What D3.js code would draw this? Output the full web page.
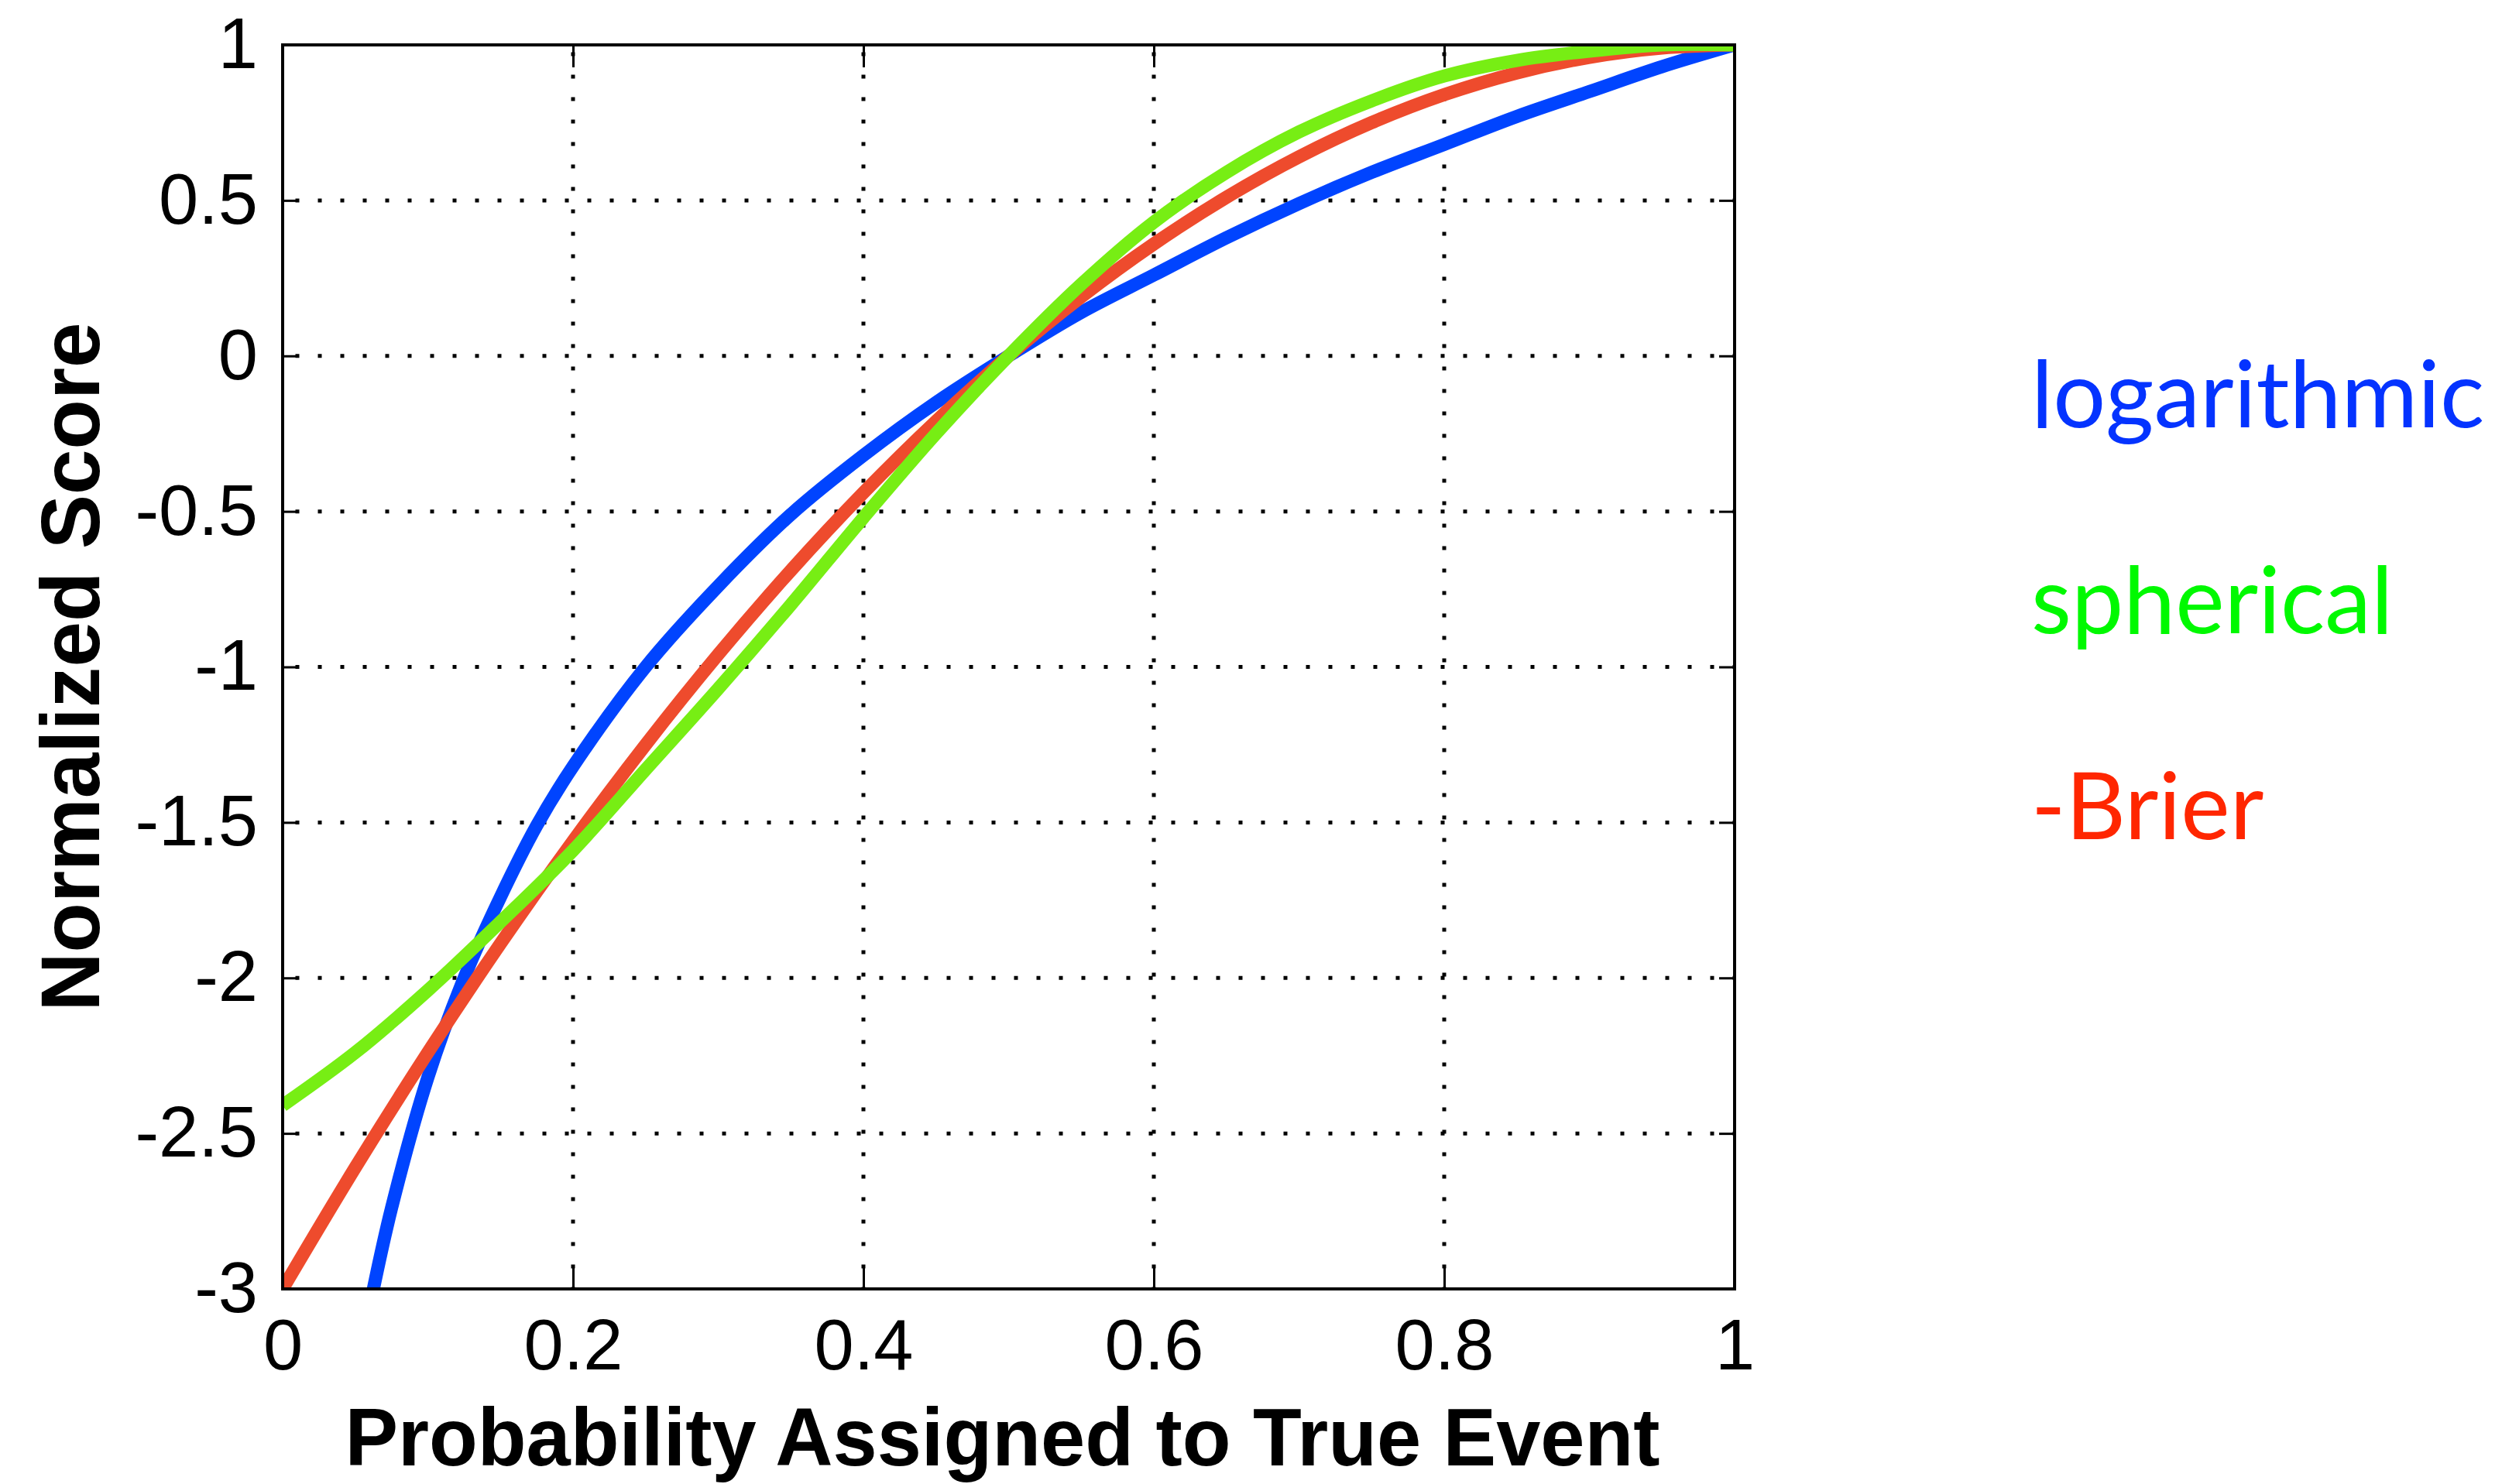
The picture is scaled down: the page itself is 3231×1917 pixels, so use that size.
<!DOCTYPE html>
<html>
<head>
<meta charset="utf-8">
<script src="https://cdn.jsdelivr.net/npm/d3@7"></script>
<style>
  body { margin: 0; background: #fff; }
  svg { display: block; }
</style>
</head>
<body>
<div id="chart"></div>
<script>
// values
var xTicks = [0, 0.2, 0.4, 0.6, 0.8, 1];
var yTicks = [-3, -2.5, -2, -1.5, -1, -0.5, 0, 0.5, 1];

var probLog = [0.0625, 0.075, 0.1, 0.125, 0.15, 0.175, 0.2, 0.25, 0.3, 0.35, 0.4, 0.45, 0.5,
               0.55, 0.6, 0.65, 0.7, 0.75, 0.8, 0.85, 0.9, 0.95, 1];
var scoreLog = [-3, -2.74, -2.32, -2, -1.74, -1.51, -1.32, -1, -0.74, -0.51, -0.32, -0.15, 0,
                0.14, 0.26, 0.38, 0.49, 0.59, 0.68, 0.77, 0.85, 0.93, 1];

var probs = [0, 0.05, 0.1, 0.15, 0.2, 0.25, 0.3, 0.35, 0.4, 0.45, 0.5,
             0.55, 0.6, 0.65, 0.7, 0.75, 0.8, 0.85, 0.9, 0.95, 1];
var scoreBrier = [-3, -2.61, -2.24, -1.89, -1.56, -1.25, -0.96, -0.69, -0.44, -0.21, 0,
                  0.19, 0.36, 0.51, 0.64, 0.75, 0.84, 0.91, 0.96, 0.99, 1];
var scoreSpherical = [-2.41, -2.24, -2.04, -1.82, -1.59, -1.33, -1.07, -0.80, -0.52, -0.25, 0,
                      0.23, 0.43, 0.59, 0.72, 0.82, 0.90, 0.95, 0.98, 1.00, 1];

var seriesNames = ["logarithmic", "spherical", "-Brier"];
var lineColors = {"logarithmic": "#0044ff", "spherical": "#77ee14", "-Brier": "#ee4b2d"};
var labelColors = {"logarithmic": "#0433ff", "spherical": "#00f900", "-Brier": "#ff2600"};

// dimensions
var W = 3231, H = 1917;
var margin = {top: 58, left: 365, right: W - 2240, bottom: H - 1665};
var width = W - margin.left - margin.right;
var height = H - margin.top - margin.bottom;

var svg = d3.select("#chart").append("svg")
    .attr("width", W)
    .attr("height", H);

var g = svg.append("g")
    .attr("transform", "translate(" + margin.left + "," + margin.top + ")");

var x = d3.scaleLinear().domain([0, 1]).range([0, width]);
var y = d3.scaleLinear().domain([-3, 1]).range([height, 0]);

// dotted grid
g.selectAll(".vgrid")
  .data(xTicks.slice(1, -1))
  .enter().append("line")
    .attr("x1", function(d) { return x(d); })
    .attr("x2", function(d) { return x(d); })
    .attr("y1", 0).attr("y2", height)
    .style("stroke", "#000")
    .style("stroke-width", 5)
    .style("stroke-dasharray", "5,24")
    .style("stroke-dashoffset", 19.5);
g.selectAll(".hgrid")
  .data(yTicks.slice(1, -1))
  .enter().append("line")
    .attr("x1", 0).attr("x2", width)
    .attr("y1", function(d) { return y(d); })
    .attr("y2", function(d) { return y(d); })
    .style("stroke", "#000")
    .style("stroke-width", 5)
    .style("stroke-dasharray", "5,24")
    .style("stroke-dashoffset", 12.5);

// curves
svg.append("defs").append("clipPath").attr("id", "plotclip")
  .append("rect").attr("width", width).attr("height", height);

var line = d3.line()
    .x(function(d) { return x(d[0]); })
    .y(function(d) { return y(d[1]); })
    .curve(d3.curveCatmullRom.alpha(0.5));

var curves = [
  {name: "logarithmic", values: d3.zip(probLog, scoreLog)},
  {name: "-Brier", values: d3.zip(probs, scoreBrier)},
  {name: "spherical", values: d3.zip(probs, scoreSpherical)}
];

g.append("g").attr("clip-path", "url(#plotclip)")
  .selectAll("path")
  .data(curves)
  .enter().append("path")
    .attr("d", function(d) { return line(d.values); })
    .style("fill", "none")
    .style("stroke", function(d) { return lineColors[d.name]; })
    .style("stroke-width", 17);

// axes, ticks pointing in
var tickFont = "'Liberation Sans', Arial, Helvetica, sans-serif";

var xAxis = g.append("g")
    .attr("transform", "translate(0," + height + ")")
    .call(d3.axisBottom(x).tickValues(xTicks).tickSizeInner(-29).tickSizeOuter(0)
      .tickPadding(39).tickFormat(function(d) { return String(d); }));
var yAxis = g.append("g")
    .call(d3.axisLeft(y).tickValues(yTicks).tickSizeInner(-20).tickSizeOuter(0)
      .tickPadding(32).tickFormat(function(d) { return String(d); }));
var xTop = g.append("g")
    .call(d3.axisTop(x).tickValues(xTicks).tickSizeInner(-29).tickSizeOuter(0).tickFormat(""));
var yRight = g.append("g")
    .attr("transform", "translate(" + width + ",0)")
    .call(d3.axisRight(y).tickValues(yTicks).tickSizeInner(-20).tickSizeOuter(0).tickFormat(""));

[xAxis, yAxis, xTop, yRight].forEach(function(a) {
  a.select(".domain").remove();
  a.selectAll(".tick line").style("stroke", "#000").style("stroke-width", 3);
  a.selectAll("text")
    .style("font-family", tickFont)
    .style("font-size", "92px")
    .style("fill", "#000");
});

// box
g.append("rect")
    .attr("width", width)
    .attr("height", height)
    .style("fill", "none")
    .style("stroke", "#000")
    .style("stroke-width", 4);

// axis titles
svg.append("text")
    .attr("x", margin.left + width / 2 - 8)
    .attr("y", 1893)
    .attr("text-anchor", "middle")
    .attr("textLength", 1698)
    .attr("lengthAdjust", "spacingAndGlyphs")
    .style("font-family", tickFont)
    .style("font-weight", "bold")
    .style("font-size", "106px")
    .text("Probability Assigned to True Event");

svg.append("text")
    .attr("transform", "translate(128," + (margin.top + height / 2) + ") rotate(-90)")
    .attr("text-anchor", "middle")
    .attr("textLength", 890)
    .attr("lengthAdjust", "spacingAndGlyphs")
    .style("font-family", tickFont)
    .style("font-weight", "bold")
    .style("font-size", "108px")
    .text("Normalized Score");

// hand made legend
var legendY = [552, 818, 1084];
svg.selectAll(".legend")
  .data(seriesNames)
  .enter().append("text")
    .attr("x", 2623)
    .attr("y", function(d, i) { return legendY[i]; })
    .style("font-family", "Lato, 'Open Sans', sans-serif")
    .style("font-size", "120px")
    .style("fill", function(d) { return labelColors[d]; })
    .text(function(d) { return d; });
</script>
</body>
</html>
